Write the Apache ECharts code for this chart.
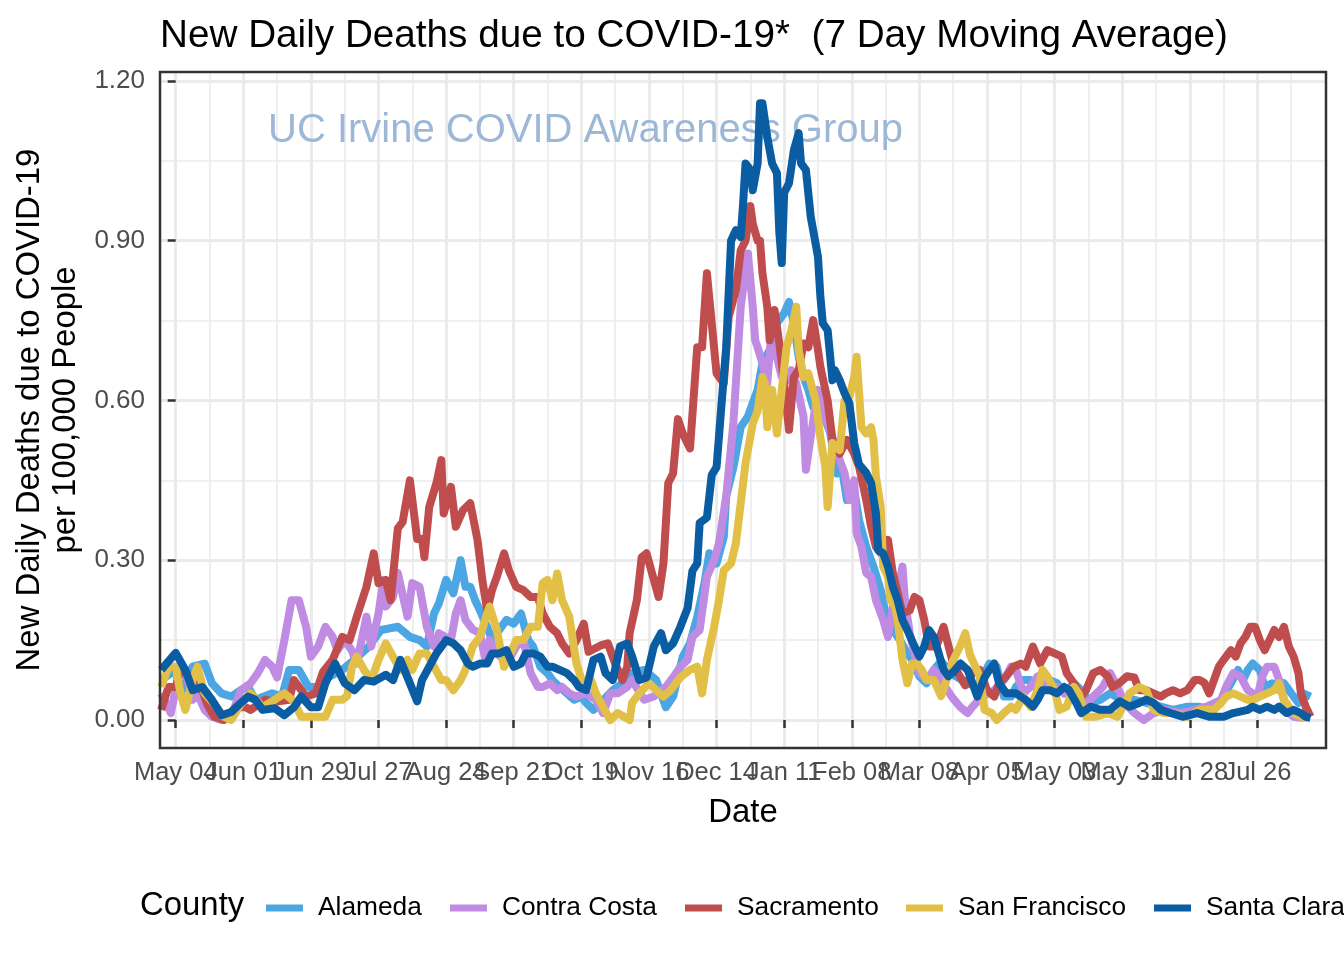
<!DOCTYPE html>
<html><head><meta charset="utf-8">
<script src="https://cdn.jsdelivr.net/npm/echarts@6/dist/echarts.min.js"></script>
<style>html,body{margin:0;padding:0;background:#fff}#chart{width:1344px;height:960px}</style>
</head><body><div id="chart"></div>
<script>
// x values are days since 2020-05-04 (May 04)
const xTickDays = [0,28,56,84,112,140,168,196,224,252,280,308,336,364,392,420,448];
const xTickLabels = ['May 04','Jun 01','Jun 29','Jul 27','Aug 24','Sep 21','Oct 19','Nov 16','Dec 14','Jan 11','Feb 08','Mar 08','Apr 05','May 03','May 31','Jun 28','Jul 26'];
const xMinorDays = [14,42,70,98,126,154,182,210,238,266,294,322,350,378,406,434,462];
const yTicks = [0,0.3,0.6,0.9,1.2];
const yMinor = [0.15,0.45,0.75,1.05];
const counties = ['Alameda','Contra Costa','Sacramento','San Francisco','Santa Clara'];

const alameda = [[-6,0.075],[0,0.094],[2,0.05],[7,0.10],[12,0.106],[15,0.069],[19,0.05],[23,0.044],[27,0.056],[30,0.062],[33,0.038],[40,0.05],[44,0.044],[47,0.094],[51,0.094],[55,0.062],[59,0.062],[63,0.08],[69,0.094],[74,0.113],[80,0.138],[85,0.169],[92,0.175],[97,0.156],[101,0.15],[104,0.138],[107,0.20],[109,0.219],[112,0.263],[115,0.238],[118,0.30],[120,0.25],[122,0.25],[124,0.225],[126,0.206],[129,0.175],[131,0.15],[134,0.169],[137,0.188],[140,0.181],[143,0.20],[146,0.15],[148,0.138],[151,0.10],[154,0.088],[156,0.075],[159,0.062],[162,0.05],[165,0.038],[168,0.044],[170,0.032],[173,0.019],[176,0.032],[181,0.056],[185,0.069],[189,0.088],[194,0.094],[199,0.075],[203,0.024],[206,0.044],[210,0.119],[213,0.144],[216,0.194],[219,0.257],[221,0.313],[224,0.294],[227,0.344],[228,0.42],[231,0.475],[234,0.55],[237,0.57],[241,0.62],[243,0.67],[246,0.695],[249,0.745],[252,0.764],[254,0.785],[256,0.745],[258,0.682],[260,0.644],[262,0.62],[264,0.588],[267,0.59],[271,0.54],[274,0.463],[276,0.47],[278,0.413],[281,0.432],[283,0.375],[286,0.325],[289,0.288],[292,0.244],[294,0.20],[297,0.169],[300,0.15],[303,0.125],[305,0.113],[308,0.082],[311,0.069],[314,0.094],[317,0.11],[319,0.10],[322,0.085],[328,0.069],[332,0.062],[335,0.088],[337,0.106],[340,0.10],[343,0.044],[346,0.044],[348,0.062],[351,0.075],[354,0.075],[357,0.056],[360,0.069],[362,0.075],[365,0.069],[368,0.05],[372,0.069],[375,0.056],[379,0.032],[383,0.038],[387,0.05],[391,0.04],[397,0.038],[402,0.032],[408,0.025],[413,0.019],[419,0.025],[424,0.025],[428,0.019],[433,0.038],[437,0.069],[440,0.094],[442,0.075],[444,0.094],[446,0.106],[449,0.094],[451,0.062],[454,0.069],[457,0.056],[459,0.069],[462,0.05],[465,0.032],[467,0.05],[470,0.044]];

const contraCosta = [[-6,0.05],[-2,0.013],[1,0.08],[4,0.094],[7,0.038],[9,0.05],[12,0.019],[15,0.006],[19,0.0],[23,0.006],[27,0.056],[31,0.069],[34,0.088],[37,0.113],[40,0.10],[42,0.08],[45,0.15],[48,0.225],[51,0.225],[54,0.175],[56,0.119],[59,0.138],[62,0.175],[65,0.156],[67,0.131],[70,0.15],[73,0.13],[75,0.106],[79,0.194],[81,0.138],[84,0.20],[86,0.263],[87,0.213],[90,0.231],[92,0.276],[96,0.194],[98,0.257],[101,0.25],[104,0.175],[107,0.138],[109,0.163],[114,0.15],[116,0.20],[118,0.225],[120,0.188],[123,0.17],[126,0.163],[128,0.119],[130,0.15],[133,0.125],[136,0.113],[138,0.113],[141,0.138],[144,0.15],[147,0.088],[150,0.062],[152,0.062],[155,0.069],[158,0.056],[160,0.062],[163,0.05],[166,0.044],[170,0.05],[174,0.038],[177,0.013],[180,0.05],[183,0.05],[187,0.062],[189,0.075],[194,0.038],[198,0.044],[201,0.056],[203,0.062],[206,0.08],[209,0.10],[212,0.113],[214,0.156],[217,0.169],[220,0.269],[223,0.30],[225,0.332],[228,0.42],[231,0.56],[234,0.776],[236,0.845],[237,0.876],[239,0.776],[240,0.713],[241,0.70],[243,0.67],[245,0.632],[247,0.745],[249,0.682],[251,0.644],[253,0.638],[255,0.657],[257,0.632],[260,0.57],[261,0.47],[263,0.532],[266,0.62],[268,0.57],[270,0.557],[272,0.53],[275,0.488],[277,0.464],[279,0.413],[281,0.45],[282,0.351],[284,0.325],[286,0.276],[288,0.269],[290,0.225],[293,0.188],[295,0.156],[297,0.213],[299,0.238],[301,0.288],[302,0.225],[304,0.163],[306,0.125],[308,0.088],[311,0.075],[314,0.094],[317,0.075],[319,0.06],[322,0.04],[325,0.024],[328,0.013],[330,0.025],[334,0.044],[339,0.056],[343,0.075],[346,0.10],[348,0.094],[351,0.05],[354,0.062],[357,0.082],[360,0.075],[362,0.062],[365,0.062],[368,0.05],[372,0.056],[376,0.025],[380,0.044],[384,0.062],[387,0.088],[390,0.062],[393,0.032],[397,0.013],[401,0.0],[405,0.013],[410,0.019],[416,0.013],[422,0.019],[427,0.025],[433,0.038],[435,0.062],[438,0.088],[441,0.082],[444,0.056],[446,0.05],[448,0.044],[450,0.082],[452,0.10],[455,0.10],[457,0.075],[459,0.038],[461,0.013],[463,0.006],[466,0.004],[469,0.006]];

const sacramento = [[-6,0.019],[-3,0.062],[0,0.062],[2,0.094],[7,0.08],[11,0.056],[13,0.03],[16,0.006],[20,0.0],[25,0.024],[29,0.024],[31,0.019],[37,0.038],[41,0.034],[47,0.038],[49,0.075],[54,0.044],[58,0.05],[61,0.09],[65,0.113],[69,0.156],[72,0.15],[75,0.194],[79,0.25],[82,0.313],[84,0.257],[87,0.263],[89,0.225],[92,0.36],[94,0.372],[97,0.45],[100,0.34],[102,0.34],[103,0.306],[105,0.40],[108,0.445],[110,0.488],[111,0.388],[114,0.438],[116,0.363],[119,0.394],[122,0.407],[125,0.338],[127,0.263],[129,0.206],[131,0.244],[133,0.269],[136,0.313],[138,0.281],[141,0.25],[144,0.244],[147,0.231],[150,0.231],[152,0.20],[155,0.175],[158,0.163],[160,0.144],[163,0.125],[166,0.15],[169,0.181],[171,0.128],[176,0.14],[179,0.144],[182,0.106],[185,0.075],[187,0.10],[188,0.163],[191,0.225],[193,0.306],[195,0.313],[197,0.28],[200,0.231],[202,0.294],[204,0.445],[206,0.463],[208,0.565],[210,0.538],[213,0.51],[216,0.70],[218,0.70],[220,0.839],[222,0.745],[224,0.651],[227,0.632],[229,0.757],[232,0.807],[234,0.882],[236,0.90],[238,0.965],[239,0.932],[241,0.90],[242,0.90],[243,0.839],[245,0.776],[246,0.713],[248,0.77],[250,0.707],[252,0.632],[254,0.545],[256,0.644],[258,0.657],[260,0.707],[262,0.70],[264,0.751],[266,0.695],[267,0.663],[270,0.60],[272,0.526],[275,0.50],[278,0.526],[281,0.50],[283,0.476],[286,0.413],[288,0.363],[290,0.325],[292,0.313],[295,0.338],[297,0.276],[299,0.238],[301,0.20],[304,0.206],[306,0.231],[308,0.225],[310,0.188],[312,0.138],[315,0.138],[318,0.175],[320,0.14],[322,0.105],[325,0.08],[327,0.065],[330,0.088],[333,0.094],[336,0.056],[339,0.044],[341,0.069],[344,0.082],[347,0.10],[350,0.106],[352,0.10],[355,0.138],[358,0.106],[361,0.131],[364,0.125],[367,0.119],[369,0.088],[372,0.069],[375,0.044],[377,0.056],[380,0.088],[383,0.094],[386,0.082],[388,0.062],[391,0.07],[394,0.082],[397,0.08],[399,0.056],[402,0.056],[405,0.05],[408,0.044],[410,0.05],[413,0.056],[416,0.05],[419,0.056],[422,0.075],[424,0.075],[426,0.07],[428,0.05],[430,0.075],[432,0.10],[434,0.113],[437,0.131],[439,0.119],[441,0.144],[443,0.156],[445,0.175],[447,0.175],[449,0.15],[451,0.131],[453,0.15],[455,0.169],[457,0.156],[459,0.175],[461,0.138],[463,0.119],[465,0.088],[466,0.05],[468,0.025],[470,0.006]];

const sanFrancisco = [[-6,0.062],[-3,0.10],[0,0.10],[2,0.05],[4,0.019],[7,0.075],[9,0.10],[12,0.05],[16,0.03],[20,0.006],[23,0.0],[27,0.03],[31,0.05],[36,0.024],[41,0.038],[45,0.05],[49,0.035],[52,0.006],[58,0.006],[62,0.006],[65,0.038],[69,0.038],[71,0.045],[73,0.10],[75,0.119],[78,0.094],[81,0.075],[84,0.113],[87,0.144],[90,0.119],[93,0.094],[96,0.113],[98,0.094],[101,0.125],[104,0.125],[107,0.10],[110,0.075],[112,0.075],[115,0.056],[118,0.075],[120,0.094],[123,0.138],[126,0.156],[129,0.20],[130,0.213],[133,0.169],[136,0.10],[138,0.119],[141,0.15],[144,0.15],[147,0.175],[150,0.175],[152,0.257],[154,0.263],[156,0.225],[158,0.275],[160,0.225],[163,0.194],[166,0.106],[169,0.062],[172,0.075],[174,0.05],[177,0.024],[180,0.0],[183,0.013],[185,0.008],[188,0.0],[189,0.032],[192,0.05],[196,0.069],[199,0.056],[202,0.044],[205,0.056],[209,0.08],[213,0.094],[216,0.10],[218,0.05],[220,0.113],[223,0.175],[225,0.225],[227,0.281],[230,0.294],[232,0.332],[234,0.407],[236,0.482],[239,0.557],[241,0.58],[243,0.644],[244,0.632],[245,0.55],[247,0.62],[249,0.538],[251,0.62],[253,0.70],[255,0.732],[257,0.776],[258,0.695],[260,0.644],[262,0.651],[265,0.60],[267,0.53],[269,0.476],[270,0.40],[272,0.52],[275,0.507],[277,0.60],[279,0.607],[281,0.644],[282,0.682],[284,0.55],[286,0.538],[288,0.55],[289,0.526],[290,0.457],[292,0.40],[293,0.288],[295,0.269],[296,0.225],[298,0.213],[299,0.188],[301,0.113],[303,0.069],[305,0.106],[307,0.106],[309,0.094],[311,0.075],[314,0.075],[317,0.045],[319,0.072],[322,0.112],[325,0.14],[327,0.163],[329,0.122],[333,0.082],[335,0.019],[338,0.013],[340,0.0],[343,0.013],[346,0.025],[348,0.019],[351,0.044],[354,0.025],[357,0.056],[359,0.094],[361,0.082],[364,0.056],[366,0.019],[369,0.025],[372,0.062],[374,0.05],[377,0.006],[381,0.006],[386,0.013],[390,0.006],[394,0.038],[395,0.05],[399,0.062],[402,0.056],[405,0.019],[409,0.013],[413,0.013],[419,0.006],[424,0.019],[430,0.019],[433,0.032],[435,0.044],[438,0.05],[441,0.044],[444,0.038],[446,0.038],[449,0.044],[452,0.05],[455,0.056],[457,0.069],[459,0.038],[461,0.025],[463,0.013],[466,0.006],[469,0.004]];

const santaClara = [[-6,0.094],[0,0.126],[4,0.094],[7,0.056],[11,0.062],[15,0.038],[19,0.009],[23,0.015],[27,0.032],[30,0.044],[33,0.038],[36,0.019],[41,0.022],[45,0.009],[49,0.024],[52,0.044],[56,0.024],[59,0.024],[62,0.069],[66,0.106],[70,0.069],[74,0.056],[78,0.075],[82,0.072],[87,0.085],[90,0.075],[93,0.113],[96,0.08],[100,0.035],[102,0.075],[105,0.10],[108,0.125],[112,0.15],[115,0.144],[118,0.131],[121,0.106],[123,0.10],[126,0.106],[129,0.106],[131,0.125],[134,0.125],[137,0.131],[140,0.10],[143,0.106],[145,0.125],[148,0.125],[151,0.119],[154,0.10],[156,0.10],[159,0.094],[162,0.088],[165,0.075],[167,0.062],[170,0.056],[173,0.113],[176,0.119],[178,0.088],[181,0.075],[184,0.138],[187,0.144],[189,0.12],[192,0.075],[195,0.08],[198,0.138],[201,0.163],[203,0.131],[206,0.144],[209,0.175],[212,0.21],[214,0.28],[216,0.294],[217,0.37],[220,0.38],[222,0.46],[224,0.475],[226,0.59],[228,0.70],[230,0.90],[232,0.92],[234,0.907],[235,0.97],[236,1.045],[238,1.033],[239,0.995],[241,1.045],[242,1.158],[243,1.158],[245,1.095],[247,1.045],[249,1.027],[250,0.915],[251,0.858],[252,0.99],[254,1.008],[256,1.07],[258,1.102],[259,1.045],[261,1.033],[263,0.945],[266,0.87],[267,0.795],[268,0.745],[270,0.732],[272,0.638],[273,0.657],[275,0.638],[277,0.614],[279,0.595],[281,0.52],[283,0.48],[286,0.464],[288,0.445],[290,0.388],[291,0.319],[293,0.313],[295,0.288],[297,0.25],[299,0.225],[301,0.188],[303,0.169],[306,0.138],[308,0.119],[310,0.138],[312,0.169],[314,0.156],[316,0.125],[318,0.094],[320,0.082],[322,0.09],[325,0.106],[328,0.094],[330,0.069],[332,0.044],[335,0.08],[337,0.094],[339,0.106],[341,0.069],[344,0.05],[348,0.05],[352,0.038],[355,0.025],[357,0.038],[359,0.056],[362,0.056],[365,0.05],[368,0.062],[370,0.056],[373,0.032],[375,0.013],[379,0.025],[383,0.019],[387,0.019],[391,0.035],[395,0.025],[399,0.032],[402,0.038],[405,0.032],[408,0.019],[412,0.013],[417,0.006],[423,0.013],[428,0.006],[434,0.006],[438,0.013],[444,0.019],[446,0.025],[449,0.019],[452,0.025],[455,0.019],[457,0.025],[460,0.013],[463,0.019],[466,0.013],[468,0.006],[470,0.004]];

const seriesData = [alameda, contraCosta, sacramento, sanFrancisco, santaClara];
const colors = ['#4BA6E3','#C08BE2','#C04D4D','#E2C047','#0B5DA3'];

const FONT = '"Liberation Sans", Arial, sans-serif';
const GL = 160, GT = 72, GW = 1166, GH = 676;
const X_MIN = -6.5, X_MAX = 476.4, Y_MIN = -0.0526, Y_MAX = 1.2169;

// labels are split over two bottom axes so that overlapping neighbours are all kept
const xLabelDaysA = xTickDays.filter((d, i) => i % 2 === 0);
const xLabelDaysB = xTickDays.filter((d, i) => i % 2 === 1);

const chart = echarts.init(document.getElementById('chart'), null, {renderer: 'canvas', width: 1344, height: 960});

function xLabel(v) {
  for (let i = 0; i < xTickDays.length; i++) if (Math.abs(xTickDays[i] - v) < 0.5) return xTickLabels[i];
  return '';
}
const xLabelStyle = {fontSize: 25.5, fontFamily: FONT, color: '#4D4D4D', margin: 12,
                     formatter: xLabel, showMinLabel: true, showMaxLabel: true, hideOverlap: false};

const legendLeft = [261, 445, 680, 901, 1149];

const option = {
  backgroundColor: '#ffffff',
  animation: false,
  grid: [{left: GL, top: GT, width: GW, height: GH, show: false}],
  xAxis: [
    {type: 'value', min: X_MIN, max: X_MAX, position: 'bottom',
     axisLine: {show: false},
     axisTick: {show: true, customValues: xTickDays, length: 8, lineStyle: {color: '#333333', width: 2.5}},
     axisLabel: Object.assign({show: true, customValues: xLabelDaysA}, xLabelStyle),
     splitLine: {show: true, lineStyle: {color: '#EBEBEB', width: 3}}},
    {type: 'value', min: X_MIN, max: X_MAX, position: 'bottom', offset: 0,
     axisLine: {show: false},
     axisTick: {show: false, customValues: xMinorDays},
     axisLabel: Object.assign({show: true, customValues: xLabelDaysB}, xLabelStyle),
     splitLine: {show: true, lineStyle: {color: '#EBEBEB', width: 1.6}}}
  ],
  yAxis: [
    {type: 'value', min: Y_MIN, max: Y_MAX, position: 'left',
     axisLine: {show: false},
     axisTick: {show: true, customValues: yTicks, length: 8, lineStyle: {color: '#333333', width: 2.5}},
     axisLabel: {show: true, customValues: yTicks, formatter: v => v.toFixed(2), showMinLabel: true, showMaxLabel: true,
                 fontSize: 26, fontFamily: FONT, color: '#4D4D4D', margin: 15},
     splitLine: {show: true, lineStyle: {color: '#EBEBEB', width: 3}}},
    {type: 'value', min: Y_MIN, max: Y_MAX, position: 'left',
     axisLine: {show: false},
     axisTick: {show: false, customValues: yMinor},
     axisLabel: {show: false},
     splitLine: {show: true, lineStyle: {color: '#EBEBEB', width: 1.6}}}
  ],
  legend: counties.map((c, i) => ({
    data: [c], left: legendLeft[i], top: 890, icon: 'rect', itemWidth: 37, itemHeight: 7,
    selectedMode: false,
    textStyle: {fontSize: 26.3, fontFamily: FONT, color: '#000000', padding: [0, 0, 0, 10]}
  })),
  series: counties.map((c, i) => ({
    name: c, type: 'line', xAxisIndex: 0, yAxisIndex: 0,
    data: seriesData[i], showSymbol: false, symbol: 'none', smooth: false,
    color: colors[i],
    lineStyle: {color: colors[i], width: 8, join: 'round', cap: 'butt'},
    z: 3 + i
  })),
  graphic: [
    {type: 'text', x: 268, y: 131, z: 1, silent: true,
     style: {text: 'UC Irvine COVID Awareness Group', fontSize: 40, fontFamily: FONT, fill: '#9CB8D6', align: 'left', verticalAlign: 'middle'}},
    {type: 'rect', z: 50, silent: true, shape: {x: GL, y: GT, width: GW, height: GH},
     style: {fill: null, stroke: '#333333', lineWidth: 2.5}},
    {type: 'text', x: 160, y: 36, z: 50, silent: true,
     style: {text: 'New Daily Deaths due to COVID-19*  (7 Day Moving Average)', fontSize: 38.7, fontFamily: FONT, fill: '#000000', align: 'left', verticalAlign: 'middle'}},
    {type: 'text', x: 743, y: 813, z: 50, silent: true,
     style: {text: 'Date', fontSize: 32.9, fontFamily: FONT, fill: '#000000', align: 'center', verticalAlign: 'middle'}},
    {type: 'text', x: 30, y: 410, rotation: Math.PI / 2, z: 50, silent: true,
     style: {text: 'New Daily Deaths due to COVID-19', fontSize: 32.9, fontFamily: FONT, fill: '#000000', align: 'center', verticalAlign: 'middle'}},
    {type: 'text', x: 66, y: 410, rotation: Math.PI / 2, z: 50, silent: true,
     style: {text: 'per 100,000 People', fontSize: 32.9, fontFamily: FONT, fill: '#000000', align: 'center', verticalAlign: 'middle'}},
    {type: 'text', x: 140, y: 906, z: 50, silent: true,
     style: {text: 'County', fontSize: 32.9, fontFamily: FONT, fill: '#000000', align: 'left', verticalAlign: 'middle'}}
  ]
};
chart.setOption(option);
</script></body></html>
